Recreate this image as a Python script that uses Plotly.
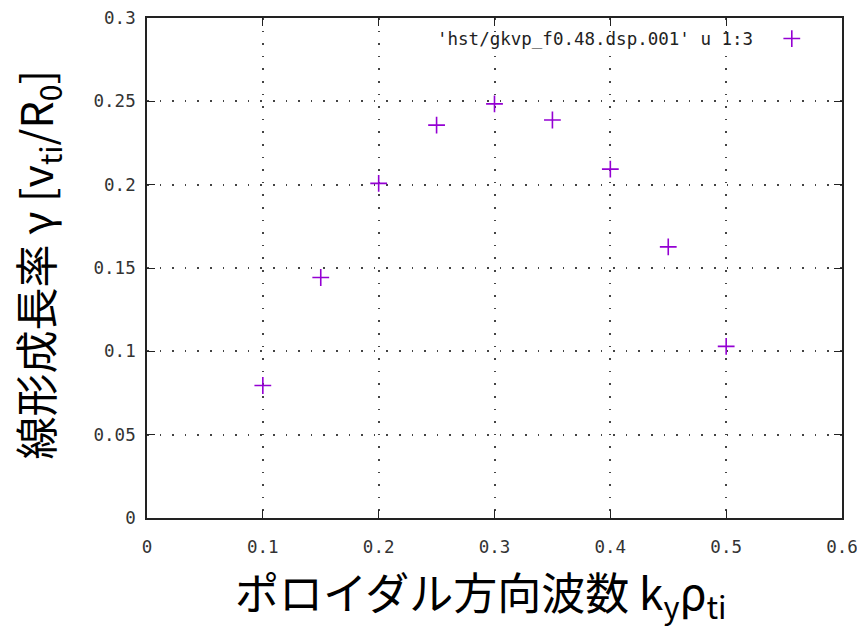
import plotly.graph_objects as go

# Data
ky_rho = [0.10, 0.15, 0.20, 0.25, 0.30, 0.35, 0.40, 0.45, 0.50]
gamma = [0.0795, 0.1443, 0.2008, 0.2357, 0.2485, 0.2388, 0.2093, 0.1627, 0.1030]

legend_label = "'hst/gkvp_f0.48.dsp.001' u 1:3"
x_title = "ポロイダル方向波数 k<sub>y</sub>ρ<sub>ti</sub>"
y_title = "線形成長率 γ [v<sub>ti</sub>/R<sub>0</sub>]"

purple = "#9400D3"
mono = "DejaVu Sans Mono"
cjk = "Noto Sans CJK JP"

fig = go.Figure()
fig.add_trace(go.Scatter(
    x=ky_rho, y=gamma, mode="markers", name=" ",
    marker=dict(symbol="cross-thin", size=12, color=purple,
                line=dict(color=purple, width=1.6)),
    showlegend=True,
))

axis_common = dict(
    showline=True, linecolor="#222", linewidth=1.6, mirror="ticks",
    ticks="inside", ticklen=8, tickwidth=1.3, tickcolor="#222",
    showgrid=True, gridcolor="#444", gridwidth=1.5, griddash="1.5px,11.1px",
    zeroline=False, automargin=False,
    tickfont=dict(family=mono, size=17.5, color="#333"),
)

fig.update_xaxes(range=[0, 0.6], dtick=0.1, tick0=0, ticklabelstandoff=12, **axis_common)
fig.update_yaxes(range=[0, 0.3], dtick=0.05, tick0=0, ticklabelstandoff=6, **axis_common)

# page body adds an 8px offset; figure sized/margined to compensate
fig.update_layout(
    width=857, height=626,
    margin=dict(l=139, r=23, t=10, b=116, autoexpand=False),
    plot_bgcolor="white", paper_bgcolor="white",
    legend=dict(x=0.899, y=0.958, xanchor="left", yanchor="middle",
                bgcolor="rgba(0,0,0,0)", borderwidth=0,
                font=dict(family=mono, size=17)),
    annotations=[
        dict(text=legend_label, xref="paper", yref="paper", x=0.8748, y=0.958,
             xanchor="right", yanchor="middle", showarrow=False,
             font=dict(family=mono, size=17.5, color="#222")),
        dict(text=x_title, xref="paper", yref="paper", x=0.4806, y=-0.15,
             xanchor="center", yanchor="middle", showarrow=False,
             font=dict(family=cjk, size=44, color="black")),
        dict(text=y_title, xref="paper", yref="paper", x=-0.1576, y=0.506,
             xanchor="center", yanchor="middle", showarrow=False, textangle=-90,
             font=dict(family=cjk, size=43, color="black")),
        dict(text="1", xref="paper", yref="paper", x=1.023, y=-0.164,
             xanchor="left", yanchor="middle", showarrow=False,
             font=dict(family=cjk, size=42, color="#999")),
    ],
)

fig.write_html("out.html")
